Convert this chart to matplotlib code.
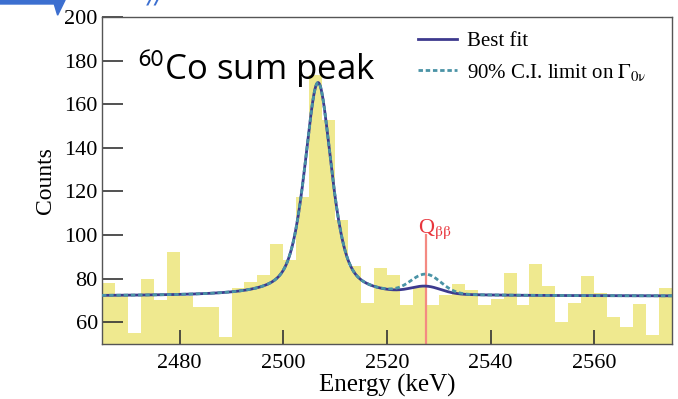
import numpy as np
import matplotlib
matplotlib.use("Agg")
import matplotlib.pyplot as plt
from matplotlib.patches import Polygon

plt.rcParams["mathtext.fontset"] = "stix"

# histogram: 2.5 keV bins from 2465 to 2575 keV
bin_edges = [2465 + 2.5 * i for i in range(45)]
counts = [78, 72, 55, 80, 70, 92, 72, 67, 67, 53,
          75.5, 78.6, 81.7, 95.7, 88.5, 117.6, 173.5, 152.8, 106.9, 85.8,
          68.7, 84.7, 81.7, 67.9, 76, 68, 72.5, 77.5, 74.8, 67.9,
          70.5, 82.7, 68, 86.7, 76.6, 60.2, 68.7, 81.3, 73.5, 62.5,
          58, 68.3, 54, 75.5]

# fit parameters
bkg = 72.0
co_peak = 2506.7
co_amp = 98.0
co_fwhm = 6.2
co_eta = 0.6
q_bb = 2527.5
q_sigma = 2.9
amp_best = 3.3
amp_limit = 8.8

def pvoigt(x, mu, amp, fwhm, eta):
    u = (x - mu) / fwhm
    lor = 1.0 / (1.0 + 4.0 * u**2)
    gau = np.exp(-4.0 * np.log(2) * u**2)
    return amp * (eta * lor + (1 - eta) * gau)

def model(x, amp0):
    return bkg + pvoigt(x, co_peak, co_amp, co_fwhm, co_eta) \
        + amp0 * np.exp(-0.5 * ((x - q_bb) / q_sigma)**2)

serif = ["Liberation Serif", "DejaVu Serif"]
fig = plt.figure(figsize=(6.78, 3.99), dpi=100)
ax = fig.add_axes([0.1504, 0.1378, 0.8407, 0.8192])

ax.stairs(counts, bin_edges, fill=True, color="#efe98f", baseline=0, zorder=1)

x = np.linspace(2465, 2575, 800)
ax.plot(x, model(x, amp_best), color="#3d3a8e", lw=2.0, label="Best fit", zorder=3)
ax.plot(x, model(x, amp_limit), color="#4a93a6", lw=2.0, ls=(0, (1.6, 1.0)),
        label=r"90% C.I. limit on $\mathrm{\Gamma_{0\nu}}$", zorder=4)

ax.plot([q_bb, q_bb], [50, 100], color="#f48a82", lw=1.6, zorder=2)
ax.text(q_bb - 1.6, 101.0, r"Q$_{\mathrm{\beta\beta}}$", color="#e8353c",
        ha="left", va="baseline", fontsize=16, family=serif)

ax.text(2472.0, 171, r"$^{\mathsf{60}}$Co sum peak", fontsize=25, family="Open Sans",
        ha="left", va="baseline")

ax.set_xlim(2465, 2575)
ax.set_ylim(50, 200)
ax.set_xticks([2480, 2500, 2520, 2540, 2560])
ax.set_yticks([60, 80, 100, 120, 140, 160, 180, 200])
ax.tick_params(direction="in", length=10, width=1.2, color="#333333",
               labelsize=16, pad=7)
ax.tick_params(axis="y", length=15, pad=3)
for lbl in ax.get_xticklabels() + ax.get_yticklabels():
    lbl.set_family(serif)
for sp in ax.spines.values():
    sp.set_color("#555555")
    sp.set_linewidth(1.0)

ax.set_xlabel("Energy (keV)", fontsize=18, family=serif, labelpad=1)
ax.set_ylabel("Counts", fontsize=17, family=serif, labelpad=6)

leg = ax.legend(loc="upper right", frameon=False, prop={"family": serif, "size": 15},
                handlelength=1.9, handletextpad=0.45, borderaxespad=0.3,
                labelspacing=0.5, bbox_to_anchor=(0.98, 1.0))

# bits of the slide decoration in the corner
fig.patches.append(Polygon([[0, 1.0], [0.096, 1.0], [0.085, 0.962], [0.08, 0.99], [0, 0.99]],
                           closed=True, transform=fig.transFigure, color="#3c6fd0"))
fig.text(0.218, 1.012, "//", color="#3c6fd0", fontsize=18, style="italic",
         va="center", ha="left")

fig.savefig("out.png", dpi=100)
